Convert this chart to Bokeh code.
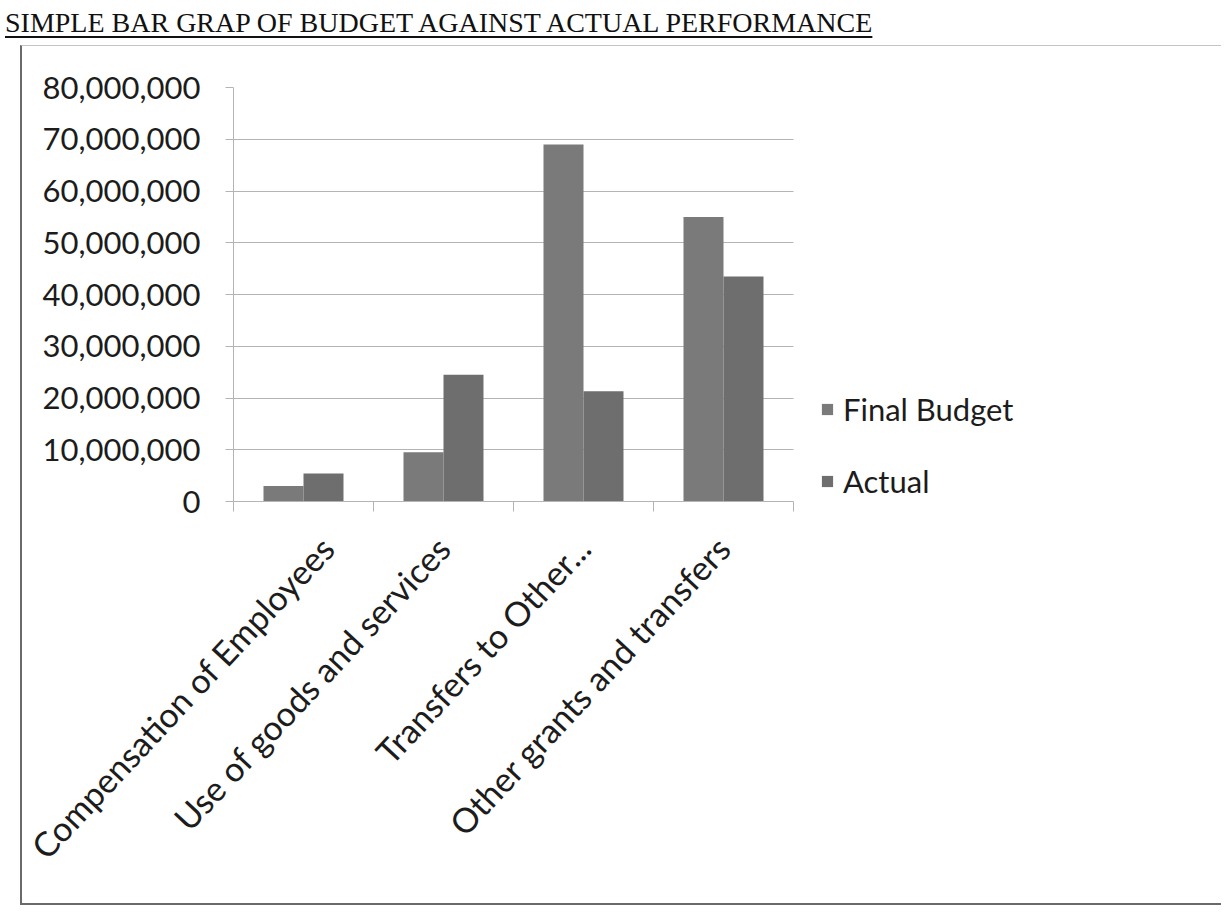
import numpy as np
from bokeh.plotting import figure
from bokeh.models import (ColumnDataSource, FixedTicker, NumeralTickFormatter,
                          Range1d, Legend, LegendItem, Div)
from bokeh.transform import dodge
from bokeh.layouts import column
from bokeh.embed import file_html
from bokeh.resources import INLINE

# ---------------- data ----------------
title_text = "SIMPLE BAR GRAP OF BUDGET AGAINST ACTUAL PERFORMANCE"
categories = ["Compensation of Employees", "Use of goods and services",
              "Transfers to Other...", "Other grants and transfers"]
final_budget = [3_000_000, 9_500_000, 69_000_000, 55_000_000]
actual = [5_400_000, 24_500_000, 21_300_000, 43_500_000]
series_names = ["Final Budget", "Actual"]
y_ticks = [0, 10_000_000, 20_000_000, 30_000_000, 40_000_000,
           50_000_000, 60_000_000, 70_000_000, 80_000_000]

# ---------------- styles / layout ----------------
FONT = "Lato"
TXT = "#1c1c1c"
GRID = "#b4b4b4"
C_BUDGET = "#7a7a7a"
C_ACTUAL = "#6e6e6e"
BAR_W = 0.2857
FIG_W, FIG_H = 1201, 860
BORDER_L, BORDER_R = 211, 20
PLOT_W = 560                      # visible width of the category area (px)
FRAME_W = FIG_W - BORDER_L - BORDER_R
n_cat = len(categories)
x_end = n_cat * FRAME_W / PLOT_W  # frame extends to the right to hold the legend

centers = [i + 0.5 for i in range(n_cat)]
src = ColumnDataSource(dict(x=centers, budget=final_budget, actual=actual))

title = Div(
    text=f'<div style="font-family:\'Liberation Serif\',serif;font-size:28px;'
         f'line-height:30px;color:#111;text-decoration:underline;'
         f'text-decoration-thickness:2px;text-underline-offset:4px;'
         f'padding:8px 0 0 5px;white-space:nowrap;">{title_text}</div>',
    width=1213, height=45, margin=(0, 0, 0, 0))

p = figure(width=FIG_W, height=FIG_H, output_backend="svg", toolbar_location=None,
           x_range=Range1d(0, x_end), y_range=Range1d(0, y_ticks[-1]),
           min_border_left=BORDER_L, min_border_right=BORDER_R, min_border_top=41,
           min_border_bottom=405, margin=(0, 0, 0, 20))
p.styles = {"border-left": "2px solid #6a6a6a", "border-bottom": "2px solid #6a6a6a",
            "border-top": "1px solid #c4c4c4"}
p.outline_line_color = None
p.background_fill_color = "white"
p.border_fill_color = "white"

# horizontal gridlines limited to the category area
p.xgrid.grid_line_color = None
if "cross_bounds" in p.ygrid.properties():
    p.ygrid.ticker = FixedTicker(ticks=y_ticks)
    p.ygrid.grid_line_color = GRID
    p.ygrid.cross_bounds = (0, n_cat)
else:
    p.ygrid.grid_line_color = None
    p.segment(x0=[0] * len(y_ticks), x1=[n_cat] * len(y_ticks), y0=y_ticks,
              y1=y_ticks, line_color=GRID, line_width=1)

r1 = p.vbar(x=dodge("x", -BAR_W / 2, range=p.x_range), top="budget", width=BAR_W,
            source=src, fill_color=C_BUDGET, line_color=None)
r2 = p.vbar(x=dodge("x", BAR_W / 2, range=p.x_range), top="actual", width=BAR_W,
            source=src, fill_color=C_ACTUAL, line_color=None)

# y axis
p.yaxis.ticker = FixedTicker(ticks=y_ticks)
p.yaxis.formatter = NumeralTickFormatter(format="0,0")
p.yaxis.major_label_text_font = FONT
p.yaxis.major_label_text_font_size = "31px"
p.yaxis.major_label_text_color = TXT
p.yaxis.major_tick_out = 8
p.yaxis.major_tick_in = 0
p.yaxis.minor_tick_line_color = None
p.yaxis.major_tick_line_color = GRID
p.yaxis.axis_line_color = GRID
p.yaxis.major_label_standoff = 25

# x axis: labels at category centres, tick marks at category boundaries
p.xaxis.bounds = (0, n_cat)
p.xaxis.ticker = FixedTicker(ticks=centers, minor_ticks=list(range(n_cat + 1)))
p.xaxis.major_label_overrides = {c: name for c, name in zip(centers, categories)}
p.xaxis.major_label_orientation = np.deg2rad(47)
p.xaxis.major_label_text_font = FONT
p.xaxis.major_label_text_font_size = "34px"
p.xaxis.major_label_text_color = TXT
p.xaxis.major_tick_out = 0
p.xaxis.major_tick_in = 0
p.xaxis.minor_tick_out = 10
p.xaxis.minor_tick_in = 0
p.xaxis.minor_tick_line_color = GRID
p.xaxis.axis_line_color = GRID
p.xaxis.major_label_standoff = 30

legend = Legend(items=[LegendItem(label=series_names[0], renderers=[r1]),
                       LegendItem(label=series_names[1], renderers=[r2])],
                location=(PLOT_W + 27, 1), orientation="vertical")
legend.label_text_font = FONT
legend.label_text_font_size = "31px"
legend.label_text_color = TXT
legend.glyph_width = 14
legend.glyph_height = 14
legend.label_height = 20
legend.spacing = 34
legend.label_standoff = 9
legend.padding = 0
legend.margin = 0
legend.border_line_color = None
legend.background_fill_alpha = 0
p.add_layout(legend)

layout = column(title, p)
open("out.html", "w").write(file_html(layout, INLINE))
